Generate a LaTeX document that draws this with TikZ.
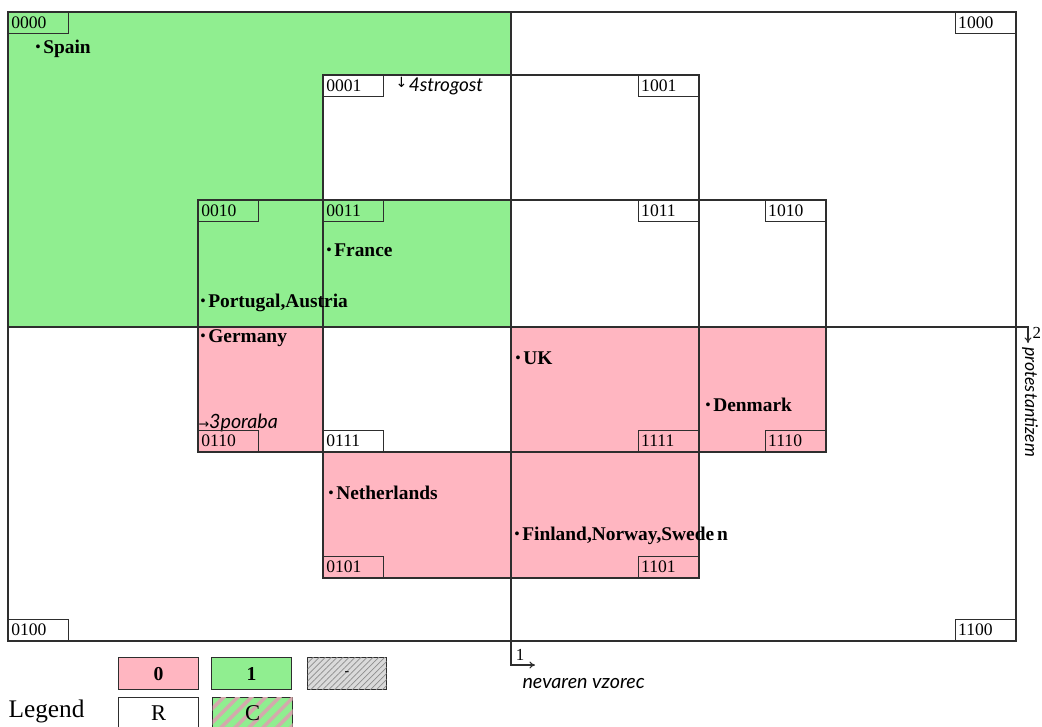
\documentclass[tikz,border=0pt]{standalone}
\usepackage{fontspec}
\setmainfont{Liberation Serif}
\newfontfamily\notefont{Lato}
\newfontfamily\arrowfont{DejaVu Sans}
\usetikzlibrary{arrows.meta, positioning, patterns.meta}
\definecolor{cgreen}{HTML}{90EE90}
\definecolor{cpink}{HTML}{FFB6C1}
\definecolor{cline}{HTML}{2E2E2E}
\definecolor{chatch}{HTML}{8C8C8C}
\definecolor{cgreyfill}{HTML}{DADADA}
\definecolor{cstripe}{HTML}{D4A9AC}
\newcommand{\cbul}{\raisebox{0.25ex}{\fontsize{10}{10}\selectfont\textbullet}\hspace{2pt}}
\tikzset{
  every picture/.style={line width=0.8pt},
  grid/.style={draw=cline},
  codebox/.style={draw=cline, font=\fontsize{12.5}{12.5}\selectfont, text width=1.36cm, align=left, inner xsep=2pt, inner ysep=0pt, minimum height=0.53cm},
  country/.style={font=\bfseries\fontsize{13.8}{13.8}\selectfont, anchor=west, inner sep=0pt},
  varlabel/.style={font=\notefont\itshape\fontsize{14}{14}\selectfont, inner sep=0pt},
  axis/.style={draw=cline, -{To[length=4pt,width=5pt]}},
  legbox/.style={draw=cline, fill=#1, minimum width=2cm, minimum height=0.8cm, inner sep=0pt, anchor=north west},
  legbox/.default=white,
}

\begin{document}
\begin{tikzpicture}[x=0.025cm, y=-0.025cm]
  \useasboundingbox (0,0) rectangle (1042,726);
  % coloured cells
  \fill[cgreen] (8,12) -- (511,12) -- (511,75) -- (323,75) -- (323,200) -- (511,200) -- (511,327) -- (8,327) -- cycle;
  \fill[cpink] (198,327) rectangle (323,452);
  \fill[cpink] (511,327) rectangle (826,452);
  \fill[cpink] (323,452) rectangle (699,578);
  % the four variables
  \draw[grid] (8,12) rectangle (1016,641);
  \draw[grid] (323,75) rectangle (699,578);
  \draw[grid] (198,200) rectangle (826,452);
  \coordinate (v1top) at (511,12);
  \coordinate (v1end) at (535,665);
  \coordinate (v2left) at (8,327);
  \coordinate (v2end) at (1028,343);
  \draw[axis] (v1top) |- (v1end);
  \draw[axis] (v2left) -| (v2end);
  \node[font=\fontsize{12}{12}\selectfont, inner sep=0pt] (v1num) at (520,655) {1};
  \node[varlabel, anchor=west] (v1name) at (522,683) {nevaren vzorec};
  \node[font=\fontsize{12}{12}\selectfont, inner sep=0pt, anchor=west] (v2num) at (1032,333) {2};
  \node[varlabel, font=\notefont\itshape\fontsize{12.5}{12.5}\selectfont, rotate=-90, anchor=west] (v2name) at (1030,347) {protestantizem};
  \node[varlabel, anchor=west] (v3name) at (198,423) {{\arrowfont\fontsize{9}{9}\selectfont→}3poraba};
  \node[varlabel, anchor=west, font=\notefont\itshape\fontsize{13.5}{13.5}\selectfont] (v4name) at (395,86) {\raisebox{0.5ex}{\arrowfont\fontsize{10}{10}\selectfont↓}\hspace{1pt}4strogost};
  % cell codes
  \foreach \code/\px/\py/\anc in {0000/8/12/north west, 0001/323/75/north west, 0010/198/200/north west, 0011/323/200/north west,
      1000/1016/12/north east, 1001/699/75/north east, 1011/699/200/north east, 1010/826/200/north east,
      0100/8/641/south west, 0110/198/452/south west, 0111/323/452/south west, 0101/323/578/south west,
      1100/1016/641/south east, 1111/699/452/south east, 1110/826/452/south east, 1101/699/578/south east}
    \node[codebox, anchor=\anc] (c\code) at (\px,\py) {\code};
  % countries
  \node[country] (spain) at (35,49) {\cbul Spain};
  \node[country] (france) at (326,250) {\cbul France};
  \node[country] (portugal) at (200,303) {\cbul Portugal,Austria};
  \node[country] (germany) at (200,338) {\cbul Germany};
  \node[country] (uk) at (515,358) {\cbul UK};
  \node[country] (denmark) at (705,405) {\cbul Denmark};
  \node[country] (netherlands) at (328,493) {\cbul Netherlands};
  \node[country] (finland) at (514,536) {\cbul Finland,Norway,Swede\hspace{2pt}n};
  % legend
  \node[legbox=cpink, font=\bfseries\fontsize{14}{14}\selectfont] (leg0) at (118,657) {0};
  \node[legbox=cgreen, font=\bfseries\fontsize{14}{14}\selectfont] (leg1) at (211,657) {1};
  \node[legbox=cgreyfill, minimum width=1.975cm, postaction={pattern={Lines[angle=45,distance=3pt,line width=0.5pt]}, pattern color=chatch}] (legdc) at (307,657) {-};
  \node[legbox, font=\fontsize{16}{16}\selectfont] (legR) at (118,697) {R};
  \node[legbox=cgreen, font=\fontsize{16}{16}\selectfont, postaction={pattern={Lines[angle=45,distance=7pt,line width=2.5pt]}, pattern color=cstripe}] (legC) at (212,697) {C};
  \node[font=\fontsize{18}{18}\selectfont, anchor=south west, inner sep=0pt] (legend) at (8,724) {Legend};
\end{tikzpicture}
\end{document}
